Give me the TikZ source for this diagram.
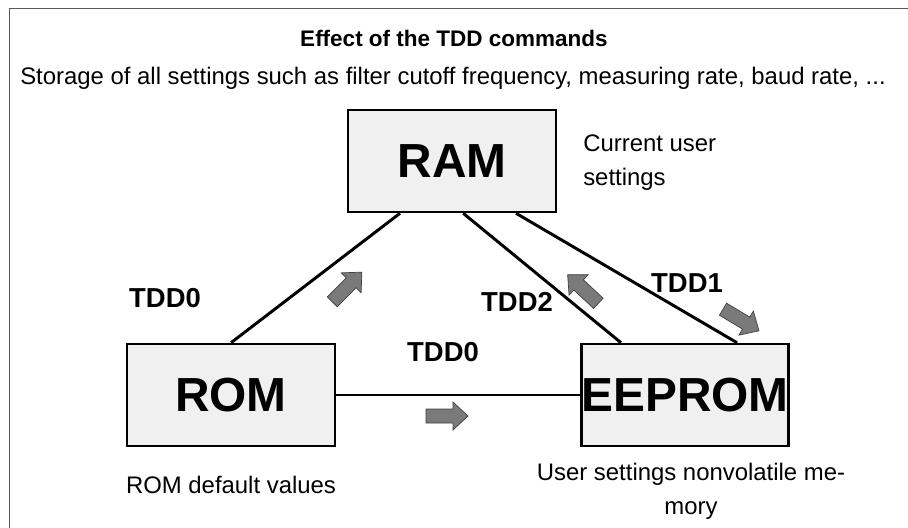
\documentclass[tikz,border=0pt]{standalone}
\usepackage{fontspec}
\setmainfont{Liberation Sans}
\usepackage{tikz}
\usetikzlibrary{positioning}

\tikzset{
    membox/.style={draw, line width=1.8pt, fill=black!6, minimum width=5.2cm,
        minimum height=2.55cm, inner sep=0pt, font=\fontsize{34}{36}\selectfont\bfseries},
    cmdlabel/.style={font=\fontsize{19.5}{21}\selectfont\bfseries, inner sep=0pt},
    note/.style={font=\fontsize{17}{24}\selectfont, inner sep=0pt},
    link/.style={line width=2.1pt},
    flow/.pic={
        \filldraw[fill=black!52, draw=black!75, line width=0.5pt]
            (-21,-7) -- (6,-7) -- (6,-14) -- (21,0) -- (6,14) -- (6,7) -- (-21,7) -- cycle;
    }
}

\begin{document}
\begin{tikzpicture}[x=0.025cm, y=-0.025cm]
    \useasboundingbox (0,0) rectangle (908,527);
    \clip (0,0) rectangle (908,527);
    \draw[black!65, line width=1pt] (9.5,540) -- (9.5,8.5) -- (920,8.5);

    \node[font=\fontsize{16}{20}\selectfont\bfseries] (title) at (454,38) {Effect of the TDD commands};
    \node[note] (sub) at (453,78) {Storage of all settings such as filter cutoff frequency, measuring rate, baud rate, ...};

    \node[membox] (ram) at (452,161) {RAM};
    \node[membox] (rom) at (231,395) {ROM};
    \node[membox, minimum width=5.15cm] (eeprom) at (685,395) {EEPROM};

    \node[note, anchor=west, align=left] (ramnote) at (583,163) {Current user\\settings};
    \node[note] (romnote) at (231,485) {ROM default values};
    \node[note, align=center] (eepnote) at (691,491) {User settings nonvolatile me-\\mory};

    \draw[link] (rom.north) -- ([xshift=-1.3cm]ram.south);
    \draw[link] ([xshift=-1.6cm]eeprom.north) -- ([xshift=0.28cm]ram.south);
    \draw[link] ([xshift=1.3cm]eeprom.north) -- ([xshift=1.6cm]ram.south);
    \draw[link] (rom.east) -- (eeprom.west);

    \node[cmdlabel] (tdd0a) at (165,298) {TDD0};
    \node[cmdlabel] (tdd2) at (517,302) {TDD2};
    \node[cmdlabel] (tdd1) at (687,283) {TDD1};
    \node[cmdlabel] (tdd0b) at (443,352) {TDD0};

    \pic[rotate=45] at (347,287) {flow};
    \pic[rotate=137] at (583,289) {flow};
    \pic[rotate=-31] at (741,320) {flow};
    \pic at (447,416) {flow};

\end{tikzpicture}
\end{document}
